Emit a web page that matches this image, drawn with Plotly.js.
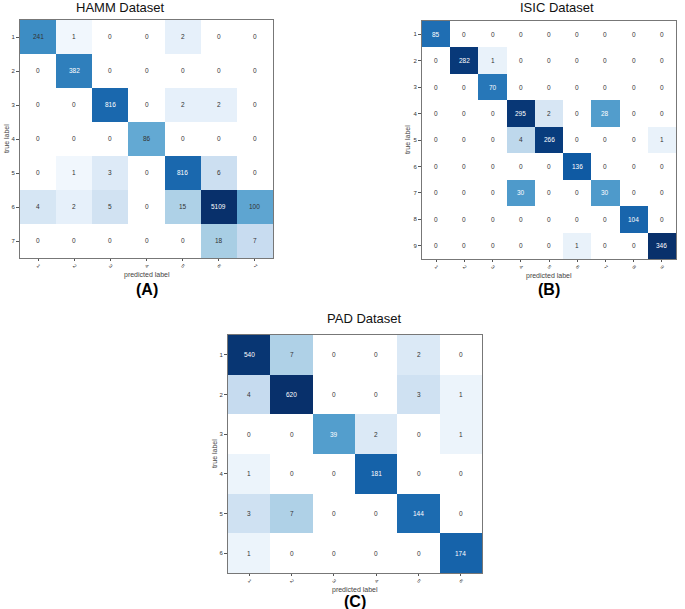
<!DOCTYPE html>
<html><head><meta charset="utf-8">
<script src="https://cdn.plot.ly/plotly-3.0.1.min.js"></script>
<style>html,body{margin:0;padding:0;background:#fff}#chart{width:685px;height:609px}</style>
</head><body><div id="chart"></div>
<script>
const hammLabels = ['1','2','3','4','5','6','7'];
const hammValues = [
  [241, 1, 0, 0, 2, 0, 0],
  [0, 382, 0, 0, 0, 0, 0],
  [0, 0, 816, 0, 2, 2, 0],
  [0, 0, 0, 86, 0, 0, 0],
  [0, 1, 3, 0, 816, 6, 0],
  [4, 2, 5, 0, 15, 5109, 100],
  [0, 0, 0, 0, 0, 18, 7]
];
const isicLabels = ['1','2','3','4','5','6','7','8','9'];
const isicValues = [
  [85, 0, 0, 0, 0, 0, 0, 0, 0],
  [0, 282, 1, 0, 0, 0, 0, 0, 0],
  [0, 0, 70, 0, 0, 0, 0, 0, 0],
  [0, 0, 0, 295, 2, 0, 28, 0, 0],
  [0, 0, 0, 4, 266, 0, 0, 0, 1],
  [0, 0, 0, 0, 0, 136, 0, 0, 0],
  [0, 0, 0, 30, 0, 0, 30, 0, 0],
  [0, 0, 0, 0, 0, 0, 0, 104, 0],
  [0, 0, 0, 0, 0, 1, 0, 0, 346]
];
const padLabels = ['1','2','3','4','5','6'];
const padValues = [
  [540, 7, 0, 0, 2, 0],
  [4, 620, 0, 0, 3, 1],
  [0, 0, 39, 2, 0, 1],
  [1, 0, 0, 181, 0, 0],
  [3, 7, 0, 0, 144, 0],
  [1, 0, 0, 0, 0, 174]
];
const panelTitles = ['HAMM Dataset', 'ISIC Dataset', 'PAD Dataset'];
const panelLetters = ['(A)', '(B)', '(C)'];
const xTitle = 'predicted label';
const yTitle = 'true label';

const W = 685, H = 609;
const blues = [[0,'#ffffff'],[0.1,'#eef5fc'],[0.25,'#c6dbef'],[0.375,'#9ecae1'],[0.5,'#6baed6'],[0.625,'#4292c6'],[0.75,'#2171b5'],[0.875,'#08519c'],[1,'#08306b']];

const panels = [
  {labels: hammLabels, values: hammValues, box: [20, 273, 20, 258], white: 300, titleX: 120, titleY: 8, letterY: 289},
  {labels: isicLabels, values: isicValues, box: [422, 676, 21, 259], white: 20, titleX: 557, titleY: 8, letterY: 289},
  {labels: padLabels, values: padValues, box: [228, 482, 335, 573], white: 20, titleX: 364, titleY: 318, letterY: 601}
];

const data = [];
const layout = {
  width: W, height: H, margin: {l:0, r:0, t:0, b:0},
  paper_bgcolor: '#fff', plot_bgcolor: '#fff',
  font: {family: 'Liberation Sans, Arial, sans-serif', color: '#333'},
  showlegend: false, annotations: []
};

panels.forEach((p, i) => {
  const n = i + 1;
  const xa = 'xaxis' + (n === 1 ? '' : n), ya = 'yaxis' + (n === 1 ? '' : n);
  const xr = 'x' + (n === 1 ? '' : n), yr = 'y' + (n === 1 ? '' : n);
  const z = p.values.map(r => r.map(v => Math.log1p(v)));
  data.push({
    type: 'heatmap', x: p.labels, y: p.labels, z: z,
    colorscale: blues, showscale: false, zmin: 0,
    xaxis: xr, yaxis: yr, hoverinfo: 'skip'
  });
  const [x0, x1, y0, y1] = p.box;
  const common = {
    showline: true, linecolor: '#777', linewidth: 1, mirror: true,
    ticks: 'outside', ticklen: 3, tickcolor: '#555',
    tickfont: {size: 6, color: '#333'}, showgrid: false, zeroline: false,
    type: 'category', fixedrange: true
  };
  layout[xa] = Object.assign({}, common, {
    domain: [x0 / W, x1 / W], anchor: yr, tickangle: 45, ticklen: 2, tickfont: {size: 5, color: '#333'}
  });
  layout[ya] = Object.assign({}, common, {
    domain: [1 - y1 / H, 1 - y0 / H], anchor: xr, autorange: 'reversed'
  });
  p.values.forEach((row, r) => row.forEach((v, c) => {
    layout.annotations.push({
      x: c, y: r, xref: xr, yref: yr, text: String(v),
      showarrow: false, font: {size: 6.5, color: v > p.white ? '#ffffff' : '#333333'}
    });
  }));
  layout.annotations.push({
    x: (x0 + x1) / 2 / W, y: 1 - (y1 + 17) / H, xref: 'paper', yref: 'paper',
    text: xTitle, showarrow: false, yanchor: 'middle', xanchor: 'center',
    font: {size: 7, color: '#444'}
  });
  layout.annotations.push({
    x: (x0 - 14) / W, y: 1 - (y0 + y1) / 2 / H, xref: 'paper', yref: 'paper',
    text: yTitle, showarrow: false, yanchor: 'middle', xanchor: 'center', textangle: -90,
    font: {size: 7, color: '#444'}
  });
  layout.annotations.push({
    x: p.titleX / W, y: 1 - p.titleY / H, xref: 'paper', yref: 'paper',
    text: panelTitles[i], showarrow: false, yanchor: 'middle', xanchor: 'center',
    font: {size: 13, color: '#111'}
  });
  layout.annotations.push({
    x: (x0 + x1) / 2 / W, y: 1 - p.letterY / H, xref: 'paper', yref: 'paper',
    text: '<b>' + panelLetters[i] + '</b>', showarrow: false, yanchor: 'middle', xanchor: 'center',
    font: {size: 16, color: '#000'}
  });
});

Plotly.newPlot('chart', data, layout, {displayModeBar: false, staticPlot: true});
</script></body></html>
